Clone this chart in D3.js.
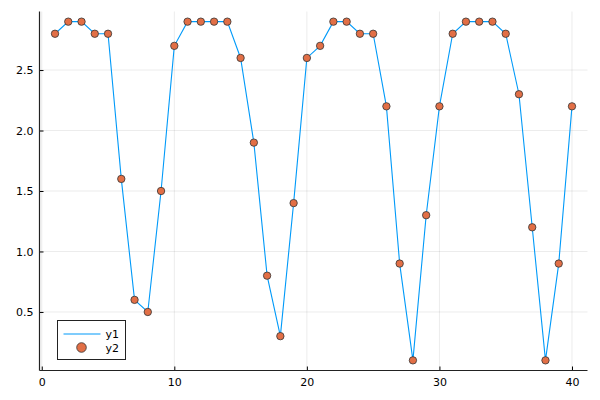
<!DOCTYPE html>
<html>
<head>
<meta charset="utf-8">
<script src="https://cdn.jsdelivr.net/npm/d3@7"></script>
<style>
  body { margin: 0; background: #fff; }
  text { font-family: "DejaVu Sans", sans-serif; }
</style>
</head>
<body>
<svg id="chart" width="600" height="400"></svg>
<script>
// data
var xs = d3.range(1, 41);
var ys = [2.8, 2.9, 2.9, 2.8, 2.8, 1.6, 0.6, 0.5, 1.5, 2.7,
          2.9, 2.9, 2.9, 2.9, 2.6, 1.9, 0.8, 0.3, 1.4, 2.6,
          2.7, 2.9, 2.9, 2.8, 2.8, 2.2, 0.9, 0.1, 1.3, 2.2,
          2.8, 2.9, 2.9, 2.9, 2.8, 2.3, 1.2, 0.1, 0.9, 2.2];
var xTicks = [0, 10, 20, 30, 40];
var yTicks = [0.5, 1.0, 1.5, 2.0, 2.5];
var seriesNames = ["y1", "y2"];

var points = xs.map(function(x, i) { return {x: x, y: ys[i]}; });

var svg = d3.select("#chart");

// plot area (note: "top" is taken by window.top)
var plotL = 39.5, plotR = 587.5, plotT = 11.5, plotB = 370.5;

var x = d3.scaleLinear().domain([-0.17, 41.17]).range([plotL, plotR]);
var y = d3.scaleLinear().domain([0.016, 2.984]).range([plotB, plotT]);

// grid
svg.append("g").selectAll("line")
    .data(xTicks).enter().append("line")
    .attr("x1", function(d) { return x(d); })
    .attr("x2", function(d) { return x(d); })
    .attr("y1", plotT).attr("y2", plotB)
    .attr("stroke", "#000").attr("stroke-opacity", 0.08);
svg.append("g").selectAll("line")
    .data(yTicks).enter().append("line")
    .attr("y1", function(d) { return y(d); })
    .attr("y2", function(d) { return y(d); })
    .attr("x1", plotL).attr("x2", plotR)
    .attr("stroke", "#000").attr("stroke-opacity", 0.08);

// axes
var xAxis = d3.axisBottom(x).tickValues(xTicks).tickSize(-4).tickPadding(8)
    .tickFormat(d3.format("d"));
svg.append("g").attr("class", "x axis")
    .attr("transform", "translate(0," + plotB + ")")
    .call(xAxis);

var yAxis = d3.axisLeft(y).tickValues(yTicks).tickSize(-4).tickPadding(6)
    .tickFormat(d3.format(".1f"));
svg.append("g").attr("class", "y axis")
    .attr("transform", "translate(" + plotL + ",0)")
    .call(yAxis);

svg.selectAll(".axis path.domain").remove();
svg.selectAll(".axis text").attr("font-size", 11).attr("fill", "#000")
    .attr("font-family", "DejaVu Sans, sans-serif");
svg.selectAll(".axis line").attr("stroke", "#000");

svg.append("line").attr("x1", plotL).attr("x2", plotR)
    .attr("y1", plotB).attr("y2", plotB)
    .attr("stroke", "#222").attr("stroke-width", 1.2);
svg.append("line").attr("x1", plotL).attr("x2", plotL)
    .attr("y1", plotT).attr("y2", plotB)
    .attr("stroke", "#222").attr("stroke-width", 1.2);

// line
var line = d3.line()
    .x(function(d) { return x(d.x); })
    .y(function(d) { return y(d.y); });
svg.append("path")
    .attr("d", line(points))
    .attr("fill", "none")
    .attr("stroke", "#009af9")
    .attr("stroke-width", 1.1);

// scatter
svg.append("g").selectAll("circle")
    .data(points).enter().append("circle")
    .attr("cx", function(d) { return x(d.x); })
    .attr("cy", function(d) { return y(d.y); })
    .attr("r", 3.7)
    .attr("fill", "#e26f46")
    .attr("stroke", "#333")
    .attr("stroke-width", 0.8);

// legend
var lg = svg.append("g").attr("transform", "translate(57.5,320.5)");
lg.append("rect").attr("width", 68).attr("height", 39)
    .attr("fill", "#fff").attr("stroke", "#222").attr("stroke-width", 1);
lg.append("line").attr("x1", 6).attr("x2", 43).attr("y1", 13.5).attr("y2", 13.5)
    .attr("stroke", "#009af9").attr("stroke-width", 1.2);
lg.append("circle").attr("cx", 24).attr("cy", 27).attr("r", 4.8)
    .attr("fill", "#e26f46").attr("stroke", "#333").attr("stroke-width", 0.8);
lg.selectAll("text.lab")
    .data(seriesNames).enter().append("text")
    .attr("class", "lab")
    .attr("x", 48)
    .attr("y", function(d, i) { return 17 + i * 14; })
    .attr("font-size", 11)
    .attr("fill", "#000")
    .text(function(d) { return d; });
</script>
</body>
</html>
